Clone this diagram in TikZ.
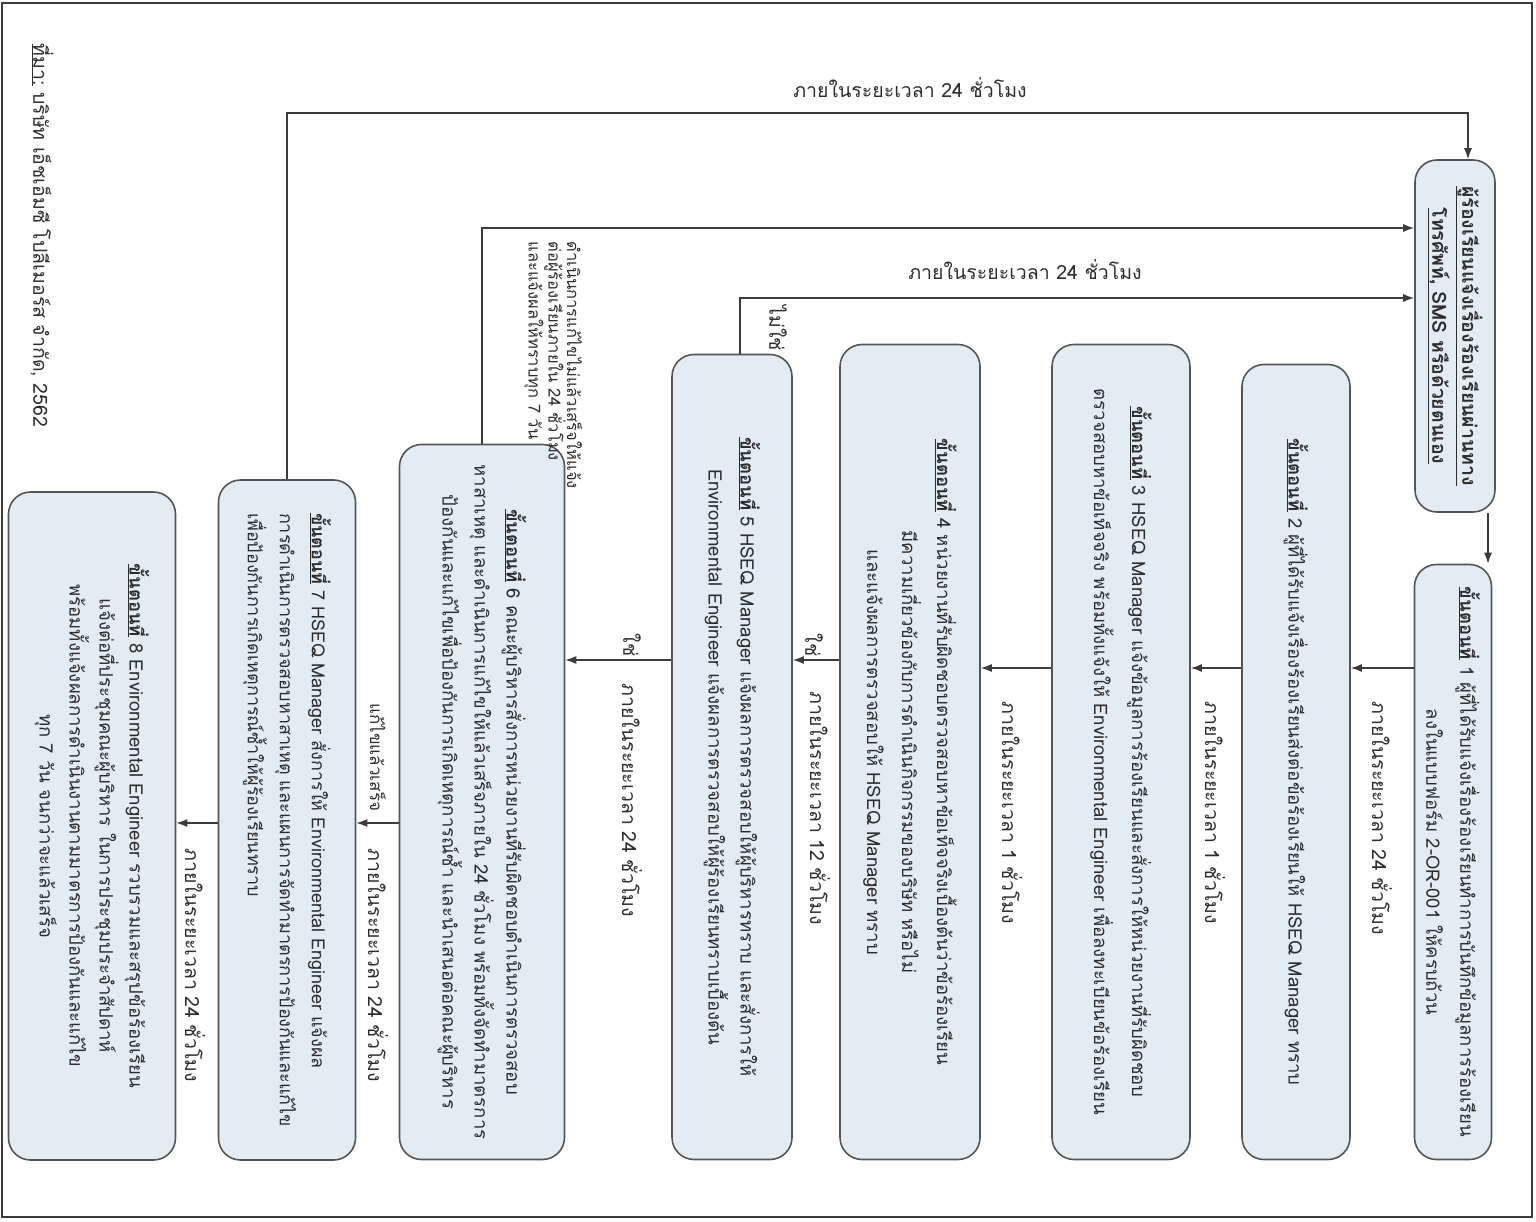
\documentclass[tikz,border=0pt]{standalone}
\usepackage{fontspec}
\setmainfont[Script=Thai]{Loma}
\usetikzlibrary{arrows.meta}
\definecolor{boxfill}{RGB}{226,236,245}
\definecolor{boxline}{RGB}{85,85,85}
\definecolor{lineclr}{RGB}{60,60,60}
\definecolor{txt}{RGB}{45,45,45}
\newcommand\stephd[1]{\underline{\bfseries ขั้นตอนที่}~#1}
\tikzset{
  stepbox/.style={draw=boxline, line width=1.6pt, rounded corners=22pt, fill=boxfill},
  boxtext/.style={rotate=-90, align=center, font=\fontsize{18.5}{32}\selectfont, text=txt},
  lbl/.style={rotate=-90, anchor=west, font=\fontsize{19.5}{22}\selectfont, text=txt},
  hlbl/.style={font=\fontsize{19.5}{22}\selectfont, text=txt},
  conn/.style={draw=lineclr, line width=1.3pt},
  arr/.style={conn, -{Latex[length=11pt,width=8pt]}},
}
\begin{document}
\begin{tikzpicture}[x=1pt,y=-1pt]
\useasboundingbox (0,0) rectangle (1536,1222);
\draw[draw=lineclr, line width=1.5pt] (2,3) rectangle (1532,1217);

% boxes
\node[stepbox, minimum width=80pt, minimum height=352pt] (t0) at (1455,336) {};
\node[stepbox, minimum width=77pt, minimum height=595pt] (s1) at (1453,862) {};
\node[stepbox, minimum width=108pt, minimum height=795pt] (s2) at (1296,762) {};
\node[stepbox, minimum width=138pt, minimum height=815pt] (s3) at (1121,752) {};
\node[stepbox, minimum width=140pt, minimum height=815pt] (s4) at (910,752) {};
\node[stepbox, minimum width=120pt, minimum height=805pt] (s5) at (732,757) {};
\node[stepbox, minimum width=165pt, minimum height=715pt] (s6) at (482,802) {};
\node[stepbox, minimum width=137pt, minimum height=680pt] (s7) at (287,820) {};
\node[stepbox, minimum width=167pt, minimum height=668pt] (s8) at (92,826) {};

% box texts
\node[boxtext, font=\fontsize{19.5}{30}\selectfont\bfseries] (t0t) at (t0.center) {\underline{ผู้ร้องเรียนแจ้งเรื่องร้องเรียนผ่านทาง}\\ \underline{โทรศัพท์, SMS หรือด้วยตนเอง}};
\node[boxtext, font=\fontsize{18.5}{34}\selectfont] (s1t) at (s1.center) {\stephd{1} ผู้ที่ได้รับแจ้งเรื่องร้องเรียนทำการบันทึกข้อมูลการร้องเรียน\\ ลงในแบบฟอร์ม 2-OR-001 ให้ครบถ้วน};
\node[boxtext] (s2t) at (s2.center) {\stephd{2} ผู้ที่ได้รับแจ้งเรื่องร้องเรียนส่งต่อข้อร้องเรียนให้ HSEQ Manager ทราบ};
\node[boxtext, font=\fontsize{18.5}{38}\selectfont] (s3t) at (s3.center) {\stephd{3} HSEQ Manager แจ้งข้อมูลการร้องเรียนและสั่งการให้หน่วยงานที่รับผิดชอบ\\ ตรวจสอบหาข้อเท็จจริง พร้อมทั้งแจ้งให้ Environmental Engineer เพื่อลงทะเบียนข้อร้องเรียน};
\node[boxtext, font=\fontsize{18.5}{35}\selectfont] (s4t) at (s4.center) {\stephd{4} หน่วยงานที่รับผิดชอบตรวจสอบหาข้อเท็จจริงเบื้องต้นว่าข้อร้องเรียน\\ มีความเกี่ยวข้องกับการดำเนินกิจกรรมของบริษัท หรือไม่\\ และแจ้งผลการตรวจสอบให้ HSEQ Manager ทราบ};
\node[boxtext] (s5t) at (s5.center) {\stephd{5} HSEQ Manager แจ้งผลการตรวจสอบให้ผู้บริหารทราบ และสั่งการให้\\ Environmental Engineer แจ้งผลการตรวจสอบให้ผู้ร้องเรียนทราบเบื้องต้น};
\node[boxtext] (s6t) at (s6.center) {\stephd{6} คณะผู้บริหารสั่งการหน่วยงานที่รับผิดชอบดำเนินการตรวจสอบ\\ หาสาเหตุ และดำเนินการแก้ไขให้แล้วเสร็จภายใน 24 ชั่วโมง พร้อมทั้งจัดทำมาตรการ\\ ป้องกันและแก้ไขเพื่อป้องกันการเกิดเหตุการณ์ซ้ำ และนำเสนอต่อคณะผู้บริหาร};
\node[boxtext, align=left, font=\fontsize{18}{32}\selectfont] (s7t) at (s7.center) {\stephd{7} HSEQ Manager สั่งการให้ Environmental Engineer แจ้งผล\\ การดำเนินการตรวจสอบหาสาเหตุ และแผนการจัดทำมาตรการป้องกันและแก้ไข\\ เพื่อป้องกันการเกิดเหตุการณ์ซ้ำให้ผู้ร้องเรียนทราบ};
\node[boxtext, font=\fontsize{18.5}{30}\selectfont] (s8t) at (s8.center) {\stephd{8} Environmental Engineer รวบรวมและสรุปข้อร้องเรียน\\ แจ้งต่อที่ประชุมคณะผู้บริหาร ในการประชุมประจำสัปดาห์\\ พร้อมทั้งแจ้งผลการดำเนินงานตามมาตรการป้องกันและแก้ไข\\ ทุก 7 วัน จนกว่าจะแล้วเสร็จ};

% helper coordinates
\coordinate (a0) at (1488,0);
\coordinate (h1) at (0,668);
\coordinate (h4) at (0,660);
\coordinate (h6) at (0,823);
\coordinate (v5) at (740,0);
\coordinate (y5) at (0,298);
\coordinate (y6) at (0,228);
\coordinate (c7) at (1468,113);

% main chain
\draw[arr] (t0.south -| a0) -- (s1.north -| a0);
\draw[arr] (s1.west |- h1) -- (s2.east |- h1);
\draw[arr] (s2.west |- h1) -- (s3.east |- h1);
\draw[arr] (s3.west |- h1) -- (s4.east |- h1);
\draw[arr] (s4.west |- h4) -- (s5.east |- h4);
\draw[arr] (s5.west |- h4) -- (s6.east |- h4);
\draw[arr] (s6.west |- h6) -- (s7.east |- h6);
\draw[arr] (s7.west |- h6) -- (s8.east |- h6);

% feedback lines
\draw[arr] (s5.north -| v5) |- (t0.west |- y5);
\draw[arr] (s6.north) |- (t0.west |- y6);
\draw[arr] (s7.north) |- (c7) -- (t0.north -| c7);

% labels
\node[lbl] (l12) at (1382,698) {ภายในระยะเวลา 24 ชั่วโมง};
\node[lbl] (l23) at (1215,698) {ภายในระยะเวลา 1 ชั่วโมง};
\node[lbl] (l34) at (1012,698) {ภายในระยะเวลา 1 ชั่วโมง};
\node[lbl] (l45a) at (814,630) {ใช่};
\node[lbl] (l45) at (820,688) {ภายในระยะเวลา 12 ชั่วโมง};
\node[lbl] (l56a) at (632,630) {ใช่};
\node[lbl] (l56) at (632,680) {ภายในระยะเวลา 24 ชั่วโมง};
\node[lbl, font=\fontsize{17}{20}\selectfont] (l67a) at (378,700) {แก้ไขแล้วเสร็จ};
\node[lbl] (l67) at (378,845) {ภายในระยะเวลา 24 ชั่วโมง};
\node[lbl] (l78) at (195,845) {ภายในระยะเวลา 24 ชั่วโมง};
\node[lbl] (l5no) at (778,302) {ไม่ใช่};
\node[hlbl] (l5t) at (1025,270) {ภายในระยะเวลา 24 ชั่วโมง};
\node[hlbl] (l7t) at (910,88) {ภายในระยะเวลา 24 ชั่วโมง};
\node[lbl, anchor=north west, align=left, font=\fontsize{16.5}{18.5}\selectfont] (l6t) at (586,238) {ดำเนินการแก้ไขไม่แล้วเสร็จให้แจ้ง\\ ต่อผู้ร้องเรียนภายใน 24 ชั่วโมง\\ และแจ้งผลให้ทราบทุก 7 วัน};
\node[lbl] (src) at (42,40) {\underline{ที่มา:} บริษัท เอ็ชเอ็มซี โปลีเมอร์ส จำกัด, 2562};
\end{tikzpicture}
\end{document}
